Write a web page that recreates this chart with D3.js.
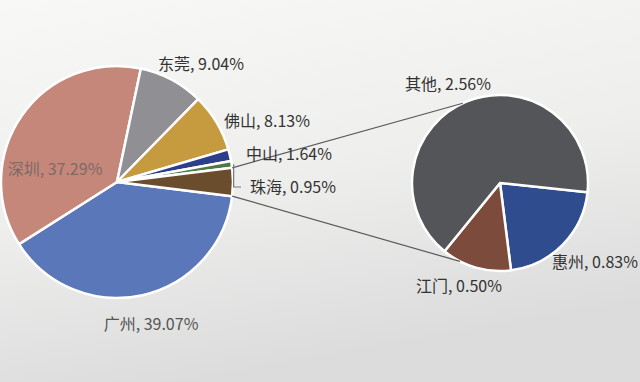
<!DOCTYPE html>
<html>
<head>
<meta charset="utf-8">
<script src="https://cdn.jsdelivr.net/npm/d3@7"></script>
<style>
  html, body { margin: 0; padding: 0; }
  body { width: 640px; height: 382px; overflow: hidden; }
</style>
</head>
<body>
<div id="chart"></div>
<script>
// main pie (the last slice is the sum of the secondary pie)
const mainLabels = ['广州', '深圳', '东莞', '佛山', '中山', '珠海', '其他'];
const mainColors = ['#5a77ba', '#c5877a', '#909094', '#c69b3f', '#2b3f8a', '#4d7a42', '#6a4d2c'];
// secondary pie
const subLabels = ['惠州', '江门', '其他'];
const subValues = [0.83, 0.50, 2.56];
const subColors = ['#2f4c8e', '#7d4b3c', '#545558'];
const mainValues = [39.07, 37.29, 9.04, 8.13, 1.64, 0.95, d3.sum(subValues)];

// label placement (text center x, y)
const mainLabelPos = {
    '广州': [151, 323, '#555'],
    '深圳': [55, 168, '#7d6a66'],
    '东莞': [201, 63, '#333'],
    '佛山': [267, 120, '#333'],
    '中山': [289, 153, '#333'],
    '珠海': [293, 186, '#333']
};
const subLabelPos = {
    '其他': [448, 83],
    '惠州': [595, 261],
    '江门': [459, 285]
};

const width = 640, height = 382;
const svg = d3.select('#chart').append('svg')
    .attr('width', width)
    .attr('height', height)
    .style('font-family', '"Noto Sans CJK SC", "Noto Sans", sans-serif');

const defs = svg.append('defs');
const bg = defs.append('linearGradient').attr('id', 'paper')
    .attr('x1', 0).attr('y1', 0).attr('x2', 0.3).attr('y2', 1);
bg.append('stop').attr('offset', '0%').attr('stop-color', '#f8f8f7');
bg.append('stop').attr('offset', '55%').attr('stop-color', '#eeeeed');
bg.append('stop').attr('offset', '100%').attr('stop-color', '#dcdcdc');
svg.append('rect').attr('width', width).attr('height', height).attr('fill', 'url(#paper)');

const mainC = [117, 182], mainR = 116;
const subC = [500, 183], subR = 88;
const toRad = d => d * Math.PI / 180;

const total = d3.sum(mainValues);
const otherFrac = mainValues[mainValues.length - 1] / total;
const mainStart = Math.PI / 2 + otherFrac * Math.PI;

const mainPie = d3.pie().sort(null)
    .startAngle(mainStart).endAngle(mainStart + 2 * Math.PI);
const mainArcs = mainPie(mainValues);
const mainArc = d3.arc().innerRadius(0).outerRadius(mainR);

const gMain = svg.append('g').attr('transform', `translate(${mainC[0]},${mainC[1]})`);
gMain.selectAll('path').data(mainArcs).enter().append('path')
    .attr('d', mainArc)
    .attr('fill', (d, i) => mainColors[i])
    .attr('stroke', '#ffffff')
    .attr('stroke-width', 2.5)
    .attr('stroke-linejoin', 'round');

const subStart = toRad(96);
const subPie = d3.pie().sort(null)
    .startAngle(subStart).endAngle(subStart + 2 * Math.PI);
const subArcs = subPie(subValues);
const subArc = d3.arc().innerRadius(0).outerRadius(subR);

const gSub = svg.append('g').attr('transform', `translate(${subC[0]},${subC[1]})`);
gSub.selectAll('path').data(subArcs).enter().append('path')
    .attr('d', subArc)
    .attr('fill', (d, i) => subColors[i])
    .attr('stroke', '#ffffff')
    .attr('stroke-width', 2.5)
    .attr('stroke-linejoin', 'round');

// connector lines from the split slice to the secondary pie
const polar = (c, r, a) => [c[0] + r * Math.sin(a), c[1] - r * Math.cos(a)];
const split = mainArcs[mainArcs.length - 1];
const lines = [
    [polar(mainC, mainR, split.startAngle), polar(subC, subR, toRad(335))],
    [polar(mainC, mainR, split.endAngle), polar(subC, subR, toRad(207))]
];
svg.selectAll('line.connector').data(lines).enter().append('line')
    .attr('class', 'connector')
    .attr('x1', d => d[0][0]).attr('y1', d => d[0][1])
    .attr('x2', d => d[1][0]).attr('y2', d => d[1][1])
    .attr('stroke', '#5a5a5a')
    .attr('stroke-width', 1.2);

// leader for 珠海
const zh = mainArcs[5];
const zhEdge = polar(mainC, mainR + 2, (zh.startAngle + zh.endAngle) / 2);
svg.append('path')
    .attr('d', `M${zhEdge[0]},${zhEdge[1]} V187 H241`)
    .attr('fill', 'none')
    .attr('stroke', '#777')
    .attr('stroke-width', 1.2);

// labels
mainLabels.slice(0, 6).forEach((name, i) => {
    const [x, y, col] = mainLabelPos[name];
    svg.append('text')
        .attr('x', x).attr('y', y)
        .attr('text-anchor', 'middle')
        .attr('dominant-baseline', 'central')
        .attr('font-size', 16)
        .attr('fill', col)
        .text(`${name}, ${mainValues[i].toFixed(2)}%`);
});
subLabels.forEach((name, i) => {
    const [x, y] = subLabelPos[name];
    svg.append('text')
        .attr('x', x).attr('y', y)
        .attr('text-anchor', 'middle')
        .attr('dominant-baseline', 'central')
        .attr('font-size', 16)
        .attr('fill', '#333')
        .text(`${name}, ${subValues[i].toFixed(2)}%`);
});
</script>
</body>
</html>
